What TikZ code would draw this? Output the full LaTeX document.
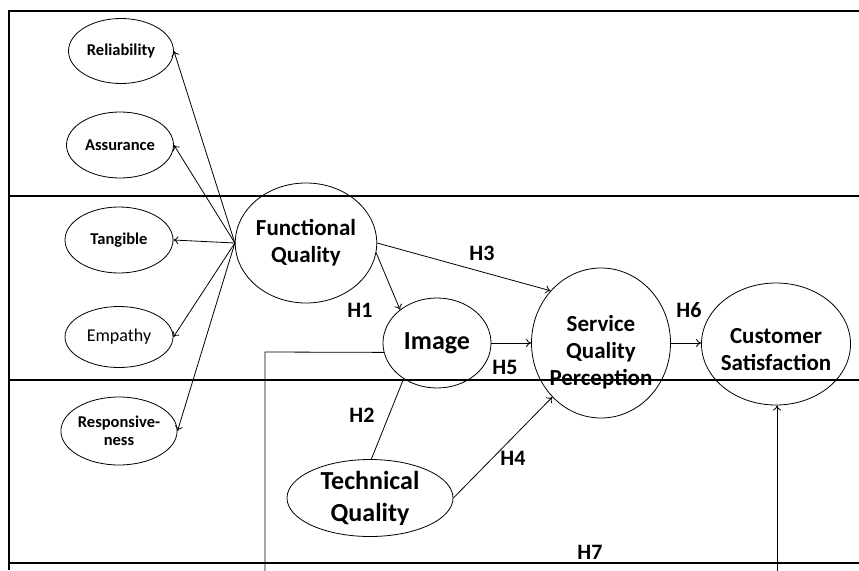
\documentclass[tikz,border=0pt]{standalone}
\usepackage{fontspec}
\setmainfont{Carlito}
\usetikzlibrary{shapes.geometric,arrows.meta}
\begin{document}
\begin{tikzpicture}[x=1pt,y=-1pt,
  ell/.style={draw, ellipse, line width=0.8pt, inner sep=0pt, align=center},
  smalltxt/.style={font=\fontsize{16.5}{18}\selectfont\bfseries},
  bigtxt/.style={font=\fontsize{23}{27}\selectfont\bfseries},
  hyp/.style={font=\fontsize{22}{26}\selectfont\bfseries, inner sep=0pt},
  conn/.style={line width=0.8pt, -{To[length=5pt,width=8pt]}},
  plain/.style={line width=0.8pt},
  frameline/.style={line width=2.6pt}]
\useasboundingbox (0,0) rectangle (859,570);
\clip (0,0) rectangle (859,570);
% small dimension ellipses
\node[ell, smalltxt, minimum width=105pt, minimum height=65pt] (rel) at (121,51) {Reliability};
\node[ell, smalltxt, minimum width=107pt, minimum height=66pt] (ass) at (120,145) {Assurance};
\node[ell, smalltxt, minimum width=108pt, minimum height=66pt] (tan) at (119,240) {Tangible};
\node[ell, font=\fontsize{18}{20}\selectfont, minimum width=108pt, minimum height=61pt] (emp) at (119,337) {Empathy};
\node[ell, smalltxt, minimum width=108pt, minimum height=68pt] (res) at (119,431) {Responsive-\\ness};
% main constructs
\node[ell, bigtxt, minimum width=134pt, minimum height=120pt] (fq) at (306,243) {Functional\\Quality};
\node[ell, font=\fontsize{26}{30}\selectfont\bfseries, minimum width=108pt, minimum height=90pt] (img) at (437,343) {Image};
\node[ell, minimum width=139pt, minimum height=150pt] (sqp) at (601,343) {};
\node[bigtxt, align=center, inner sep=0pt] (sqptxt) at (601,352) {Service\\Quality\\Perception};
\node[ell, minimum width=149pt, minimum height=122pt] (cs) at (776,344) {};
\node[bigtxt, align=center, inner sep=0pt] (cstxt) at (776,350) {Customer\\Satisfaction};
\node[ell, font=\fontsize{26}{32}\selectfont\bfseries, minimum width=166pt, minimum height=77pt] (tq) at (370,498) {Technical\\Quality};
% dimension arrows
\draw[conn] (fq.west) -- (rel.east);
\draw[conn] (fq.west) -- (ass.east);
\draw[conn] (fq.west) -- (tan.east);
\draw[conn] (fq.west) -- (emp.east);
\draw[conn] (fq.west) -- (res.east);
% hypotheses
\draw[conn] (fq.-8) -- (img.138);
\draw[conn] (fq.east) -- (sqp.134);
\draw[plain] (tq.88) -- (img.227);
\draw[conn] (tq.east) -- (sqp.228);
\draw[conn] (img.east) -- (sqp.west);
\draw[conn] (sqp.east) -- (sqp.east -| cs.west);
\coordinate (h7a) at (265,352);
\coordinate (h7b) at (265,600);
\coordinate (h7c) at (777,600);
\draw[plain] (img.190) -- (h7a) -- (h7b) -- (h7c);
\draw[conn] (h7c) -- (h7c |- cs.south);
% labels
\node[hyp] (l1) at (360,310) {H1};
\node[hyp] (l2) at (362,415) {H2};
\node[hyp] (l3) at (482,253) {H3};
\node[hyp] (l4) at (513,458) {H4};
\node[hyp] (l5) at (505,367) {H5};
\node[hyp] (l6) at (689,310) {H6};
\node[hyp] (l7) at (590,552) {H7};
% frame
\coordinate (f0) at (9,11);
\coordinate (f1) at (859,11);
\coordinate (f2) at (9,570);
\draw[frameline] (f1) -- (f0) -- (f2);
\coordinate (r1a) at (9,196);   \coordinate (r1b) at (859,196);
\coordinate (r2a) at (9,380);   \coordinate (r2b) at (859,380);
\coordinate (r3a) at (9,563);   \coordinate (r3b) at (859,563);
\draw[frameline] (r1a) -- (r1b);
\draw[frameline] (r2a) -- (r2b);
\draw[frameline] (r3a) -- (r3b);
\end{tikzpicture}
\end{document}
